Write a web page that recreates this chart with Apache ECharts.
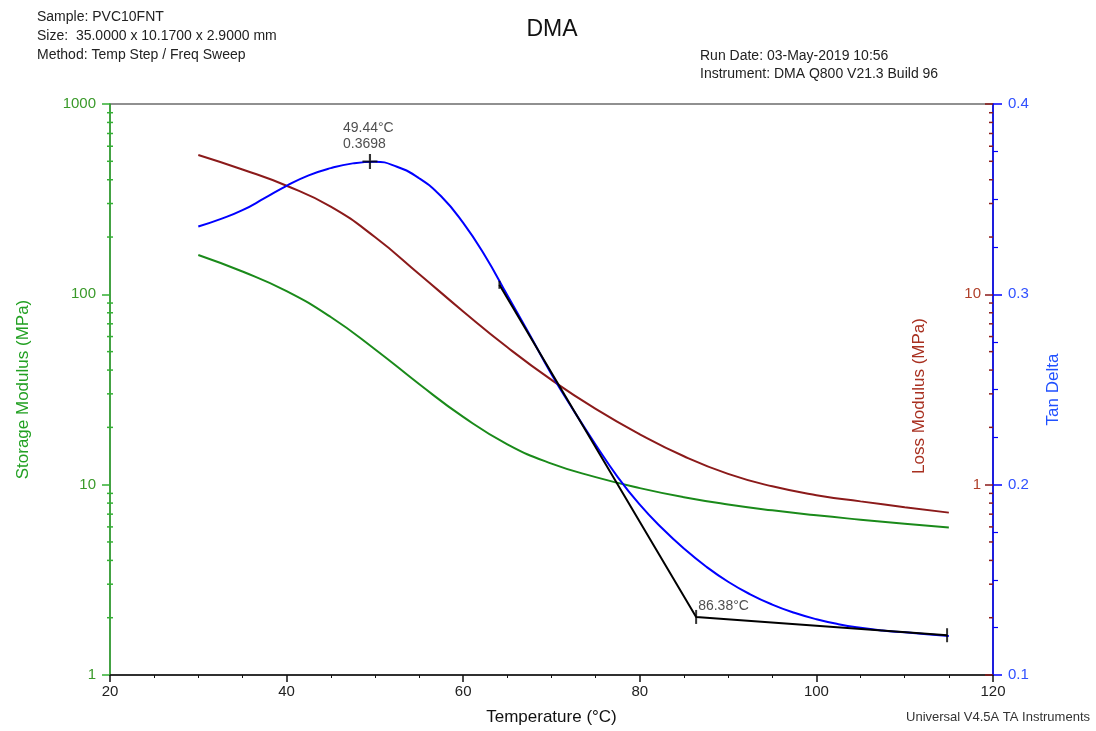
<!DOCTYPE html>
<html>
<head>
<meta charset="utf-8">
<script src="https://cdn.jsdelivr.net/npm/echarts@6/dist/echarts.min.js"></script>
<style>
html,body{margin:0;padding:0;background:#fff;}
#chart{width:1096px;height:731px;}
</style>
</head>
<body>
<div id="chart"></div>
<script>
// ---- data ----
const temps5 = [30,35,40,45,50,55,60,65,70,75,80,85,90,95,100,105,110,115];
const storageModulus = [161,131.8,104,76.0,51.5,33.8,22.7,16.3,12.9,10.96,9.59,8.59,7.87,7.33,6.90,6.55,6.24,5.96];
const lossModulus = [54.0,45.3,37.2,28.9,20.0,12.8,8.13,5.27,3.55,2.50,1.84,1.41,1.14,0.98,0.881,0.817,0.762,0.713];
const tempsTan = [30,32.5,35,37.5,40,42.5,45,47.5,50,52.5,55,57.5,60,62.5,65,67.5,70,72.5,75,77.5,80,82.5,85,87.5,90,92.5,95,97.5,100,102.5,105,107.5,110,112.5,115];
const tanDelta = [0.3356,0.3395,0.3442,0.3505,0.3570,0.3625,0.3663,0.3688,0.3697,0.3670,0.3610,0.3515,0.3375,0.3200,0.2995,0.2790,0.2580,0.2390,0.2210,0.2040,0.1895,0.1772,0.1664,0.1570,0.1490,0.1424,0.1370,0.1327,0.1293,0.1267,0.1248,0.1234,0.1224,0.1214,0.1205];
const tangentT = [64.1, 86.38, 114.8];
const tangentTan = [0.305, 0.1305, 0.1209];
const peakT = 49.44, peakTan = 0.3698;
const onsetT = 86.38;
const storageMinorTicks = [2,3,4,5,6,7,8,9,20,30,40,50,60,70,80,90,200,300,400,500,600,700,800,900];
const lossMinorTicks = [0.2,0.3,0.4,0.5,0.6,0.7,0.8,0.9,2,3,4,5,6,7,8,9,20,30,40,50,60,70,80,90];
const lossLabels = [1,10];

const FONT = "'Liberation Sans', Arial, sans-serif";
const GREEN = '#1a8a1a', RED = '#8b1a1a', BLUE = '#0000ff';

const chart = echarts.init(document.getElementById('chart'));

function minorTickSeries(values, yIdx, xVal, dx0, dx1, color){
  return {
    type:'custom', xAxisIndex:0, yAxisIndex:yIdx, silent:true, clip:false,
    data: values.map(v=>[xVal, v]),
    renderItem: function(params, api){
      const p = api.coord([api.value(0), api.value(1)]);
      return {type:'line', shape:{x1:p[0]+dx0, y1:p[1], x2:p[0]+dx1, y2:p[1]},
              style:{stroke:color, lineWidth:1.5}};
    },
    z: 5
  };
}

const option = {
  animation:false,
  backgroundColor:'#fff',
  grid:{left:110, right:103, top:104, bottom:55, show:true, borderColor:'#222', borderWidth:1.2},
  xAxis:{
    type:'value', min:20, max:120, interval:20,
    name:'Temperature (°C)', nameLocation:'middle', nameGap:34,
    nameTextStyle:{fontFamily:FONT, fontSize:17, color:'#111'},
    axisLine:{lineStyle:{color:'#111', width:1.5}},
    axisTick:{show:true, length:7, lineStyle:{color:'#111', width:1.5}},
    minorTick:{show:true, splitNumber:4, length:3, lineStyle:{color:'#111'}},
    axisLabel:{fontFamily:FONT, fontSize:15, color:'#222', margin:9},
    splitLine:{show:false}
  },
  yAxis:[
    {
      type:'log', logBase:10, min:1, max:1000, position:'left',
      name:'Storage Modulus (MPa)', nameLocation:'middle', nameGap:78,
      nameTextStyle:{fontFamily:FONT, fontSize:17, color:'#22a022'},
      axisLine:{show:true, lineStyle:{color:'#33b033', width:1.5}},
      axisTick:{show:true, length:8, lineStyle:{color:'#33b033', width:1.5}},
      axisLabel:{fontFamily:FONT, fontSize:15, color:'#3a9a2a', margin:14,
        formatter:function(v){ return String(Math.round(v)); }},
      splitLine:{show:false}
    },
    {
      type:'log', logBase:10, min:0.1, max:100, position:'right', offset:0,
      axisLine:{show:false},
      axisTick:{show:true, inside:true, length:8, lineStyle:{color:RED, width:1.5}},
      axisLabel:{inside:true, fontFamily:FONT, fontSize:15, color:'#b0402a', margin:12,
        formatter:function(v){ for (const l of lossLabels){ if (Math.abs(v-l)<1e-6) return String(l);} return ''; }},
      splitLine:{show:false}
    },
    {
      type:'value', min:0.1, max:0.4, interval:0.1, position:'right', offset:0,
      name:'Tan Delta', nameLocation:'middle', nameGap:52,
      nameTextStyle:{fontFamily:FONT, fontSize:17, color:'#2050ff'},
      axisLine:{show:true, lineStyle:{color:BLUE, width:1.5}},
      axisTick:{show:true, length:9, lineStyle:{color:BLUE, width:1.5}},
      minorTick:{show:true, splitNumber:4, length:5, lineStyle:{color:BLUE, width:1.2}},
      axisLabel:{fontFamily:FONT, fontSize:15, color:'#3050ff', margin:15,
        formatter:function(v){ return v.toFixed(1); }},
      splitLine:{show:false}
    }
  ],
  graphic:[
    {type:'text', left:37, top:10, style:{text:'Sample: PVC10FNT', font:'14px '+FONT, fill:'#222'}},
    {type:'text', left:37, top:29, style:{text:'Size:  35.0000 x 10.1700 x 2.9000 mm', font:'14px '+FONT, fill:'#222'}},
    {type:'text', left:37, top:48, style:{text:'Method: Temp Step / Freq Sweep', font:'14px '+FONT, fill:'#222'}},
    {type:'text', left:700, top:49, style:{text:'Run Date: 03-May-2019 10:56', font:'14px '+FONT, fill:'#222'}},
    {type:'text', left:700, top:67, style:{text:'Instrument: DMA Q800 V21.3 Build 96', font:'14px '+FONT, fill:'#222'}},
    {type:'text', x:552, y:30, style:{text:'DMA', font:'23px '+FONT, fill:'#111', textAlign:'center', textVerticalAlign:'middle'}},
    {type:'text', x:919, y:396, rotation:Math.PI/2, style:{text:'Loss Modulus (MPa)', font:'17px '+FONT, fill:'#a83020', textAlign:'center', textVerticalAlign:'middle'}},
    {type:'text', right:6, top:711, style:{text:'Universal V4.5A TA Instruments', font:'13px '+FONT, fill:'#333'}}
  ],
  series:[
    {name:'Storage Modulus', type:'line', xAxisIndex:0, yAxisIndex:0, smooth:0.5, showSymbol:false,
     lineStyle:{color:GREEN, width:2}, data: temps5.map((t,i)=>[t, storageModulus[i]]), z:3},
    {name:'Loss Modulus', type:'line', xAxisIndex:0, yAxisIndex:1, smooth:0.5, showSymbol:false,
     lineStyle:{color:RED, width:2}, data: temps5.map((t,i)=>[t, lossModulus[i]]), z:3},
    {name:'Tan Delta', type:'line', xAxisIndex:0, yAxisIndex:2, smooth:0.5, showSymbol:false,
     lineStyle:{color:BLUE, width:2}, data: tempsTan.map((t,i)=>[t, tanDelta[i]]), z:3},
    {name:'Tangents', type:'line', xAxisIndex:0, yAxisIndex:2, showSymbol:false,
     lineStyle:{color:'#000', width:2}, data: tangentT.map((t,i)=>[t, tangentTan[i]]), z:4},
    {name:'Peak', type:'scatter', xAxisIndex:0, yAxisIndex:2, symbol:'path://M6,0h2v6h6v2h-6v6h-2v-6h-6v-2h6z', symbolSize:15,
     itemStyle:{color:'#000'}, data:[[peakT, peakTan]], z:6,
     label:{show:true, position:'top', align:'left', offset:[-27,3], fontFamily:FONT, fontSize:14, lineHeight:16, color:'#222',
       formatter:function(){ return peakT.toFixed(2)+'°C\n'+peakTan.toFixed(4); }}},
    {name:'Onset', type:'scatter', xAxisIndex:0, yAxisIndex:2, symbol:'rect', symbolSize:[2,14],
     itemStyle:{color:'#000'}, data:[[onsetT, tangentTan[1]], [tangentT[2], tangentTan[2]]], z:6,
     label:{show:true, position:'top', align:'left', offset:[2,8], fontFamily:FONT, fontSize:14, color:'#222',
       formatter:function(p){ return p.dataIndex===0 ? onsetT.toFixed(2)+'°C' : ''; }}},
    {name:'Start', type:'scatter', xAxisIndex:0, yAxisIndex:2, symbol:'rect', symbolSize:[2,8],
     itemStyle:{color:'#000'}, data:[[tangentT[0], tangentTan[0]]], z:6},
    minorTickSeries(storageMinorTicks, 0, 20, -3, 3, '#33b033'),
    minorTickSeries(lossMinorTicks, 1, 120, -4, 0, RED)
  ]
};
chart.setOption(option);
</script>
</body>
</html>
